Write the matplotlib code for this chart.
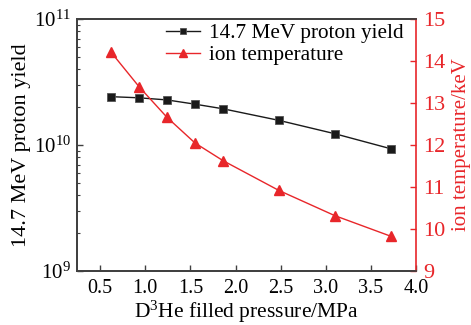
import matplotlib
matplotlib.use('Agg')
import matplotlib.pyplot as plt
from matplotlib.ticker import LogLocator, NullFormatter, MultipleLocator

plt.rcParams['font.family'] = ['Liberation Serif', 'DejaVu Serif']
plt.rcParams['mathtext.fontset'] = 'custom'
plt.rcParams['mathtext.rm'] = 'Liberation Serif'
plt.rcParams['mathtext.it'] = 'Liberation Serif:italic'

# data
pressure = [0.62, 0.93, 1.24, 1.55, 1.86, 2.48, 3.10, 3.72]
proton_yield = [2.42e10, 2.37e10, 2.28e10, 2.11e10, 1.94e10, 1.57e10, 1.23e10, 9.35e9]
ion_temp = [14.21, 13.39, 12.66, 12.05, 11.63, 10.92, 10.32, 9.83]

red = '#e8262a'
spine_col = '#404040'

fig = plt.figure(figsize=(4.71, 3.25), dpi=100)
ax = fig.add_axes([0.163, 0.166, 0.72, 0.7755])
ax2 = ax.twinx()

l1, = ax.plot(pressure, proton_yield, color='#1a1a1a', lw=1.0, marker='s', ms=6,
              mfc='#1a1a1a', mec='#555555', mew=0.6, label='14.7 MeV proton yield')
l2, = ax2.plot(pressure, ion_temp, color=red, lw=1.0, marker='^', ms=7.5,
               mfc=red, mec=red, label='ion temperature')

ax.set_yscale('log')
ax.set_ylim(1e9, 1e11)
ax.set_xlim(0.24, 4.0)
ax.xaxis.set_major_locator(MultipleLocator(0.5))
ax.yaxis.set_major_locator(LogLocator(base=10))
ax.yaxis.set_minor_locator(LogLocator(base=10, subs=range(2, 10)))
ax.yaxis.set_minor_formatter(NullFormatter())

ax2.set_ylim(9, 15)
ax2.yaxis.set_major_locator(MultipleLocator(1))

ax.tick_params(axis='x', which='major', direction='in', length=4, width=1,
               labelsize=14.5, color=spine_col, top=False, pad=6)
ax.tick_params(axis='y', which='major', direction='in', length=4, width=1,
               labelsize=15, color=spine_col, pad=4)
ax.tick_params(axis='y', which='minor', direction='in', length=2.5, width=0.8, color=spine_col)
ax2.tick_params(axis='y', direction='in', length=4, width=1, labelsize=16,
                colors=red, pad=5)

for s in ['left', 'bottom', 'top']:
    ax.spines[s].set_color(spine_col)
    ax.spines[s].set_linewidth(1.3)
    ax2.spines[s].set_color(spine_col)
    ax2.spines[s].set_linewidth(1.3)
ax2.spines['right'].set_color(red)
ax2.spines['right'].set_linewidth(1.2)
ax.spines['right'].set_visible(False)

ax.set_xlabel('D$^3$He filled pressure/MPa', fontsize=15.5, labelpad=0)
ax.set_ylabel('14.7 MeV proton yield', fontsize=16, labelpad=2)
ax2.set_ylabel('ion temperature/keV', fontsize=15, color=red, labelpad=5)

ax.legend(handles=[l1, l2], loc='upper right', frameon=False, fontsize=15.3,
          handlelength=1.6, handletextpad=0.4, labelspacing=0.1, markerscale=0.75,
          borderaxespad=0.0, borderpad=0.2, bbox_to_anchor=(0.975, 1.0))

fig.savefig('out.png', dpi=100)
